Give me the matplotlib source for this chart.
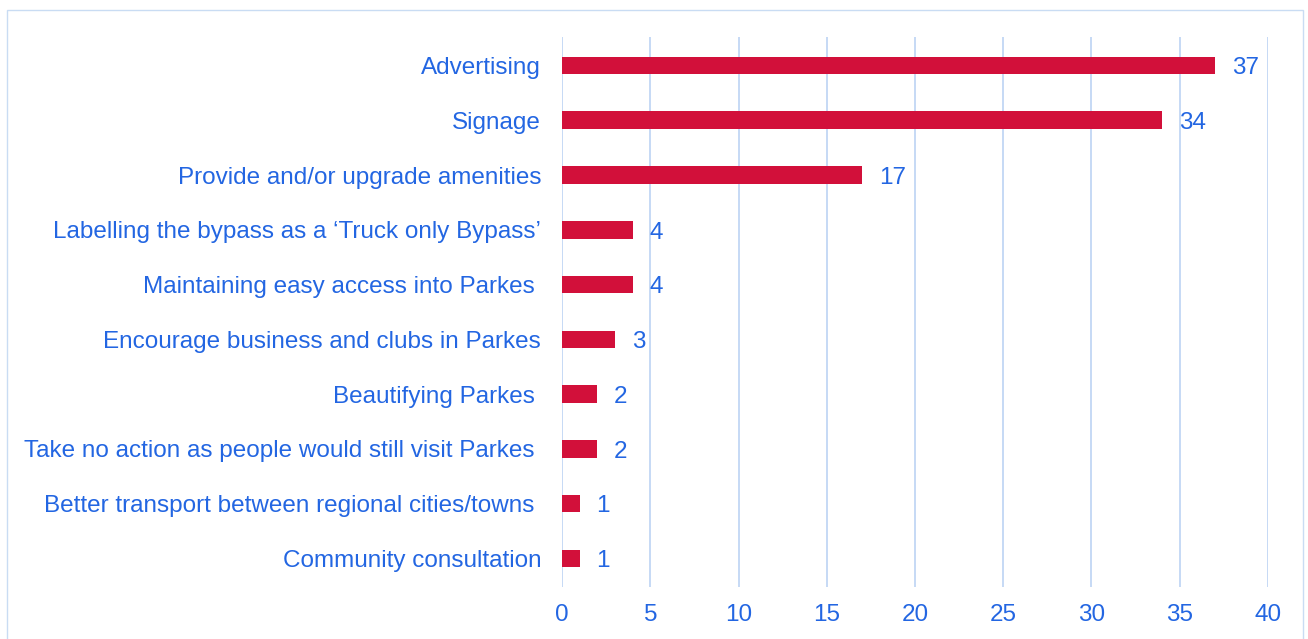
import numpy as np
import matplotlib.pyplot as plt
import matplotlib.patches as mpatches

BAR_RED = '#D2103A'
TEXT_BLUE = '#2366E2'
GRID_BLUE = '#C2D7F5'

plt.rcParams['font.family'] = ['Liberation Sans', 'DejaVu Sans']

# Responses, top to bottom
categories = [
    'Advertising',
    'Signage',
    'Provide and/or upgrade amenities',
    'Labelling the bypass as a \u2018Truck only Bypass\u2019',
    'Maintaining easy access into Parkes ',
    'Encourage business and clubs in Parkes',
    'Beautifying Parkes ',
    'Take no action as people would still visit Parkes ',
    'Better transport between regional cities/towns ',
    'Community consultation',
]
counts = [37, 34, 17, 4, 4, 3, 2, 2, 1, 1]
x_ticks = [0, 5, 10, 15, 20, 25, 30, 35, 40]

fig = plt.figure(figsize=(13.08, 6.39), dpi=100)
ax = fig.add_axes([0.4297, 0.0814, 0.5397, 0.8607])

idx = np.arange(len(categories))
bars = ax.barh(idx, counts, height=0.32, color=BAR_RED, zorder=3)

# count next to each bar
for rect, val in zip(bars, counts):
    ax.annotate(str(val), (rect.get_width(), rect.get_y() + rect.get_height() / 2),
                xytext=(12, -2), textcoords='offset points', va='center', ha='left',
                color=TEXT_BLUE, fontsize=17.5)

ax.set_xlim(0, 40)
ax.set_ylim(len(categories) - 0.48, -0.52)
ax.set_xticks(x_ticks)
ax.set_yticks(idx, categories)
ax.xaxis.grid(True, color=GRID_BLUE, linewidth=1.3, zorder=0)
ax.tick_params(axis='both', length=0, colors=TEXT_BLUE, labelsize=17.5)
ax.tick_params(axis='y', pad=15)
ax.tick_params(axis='x', pad=12)
for spine in ax.spines.values():
    spine.set_visible(False)

# thin frame round the whole chart
frame = mpatches.Rectangle((7 / 1308, -0.01), 1296 / 1308, 1 - 10 / 639 + 0.01,
                           transform=fig.transFigure, fill=False,
                           edgecolor='#C9DCF3', linewidth=1)
fig.patches.append(frame)

fig.savefig('out.png', dpi=100)
